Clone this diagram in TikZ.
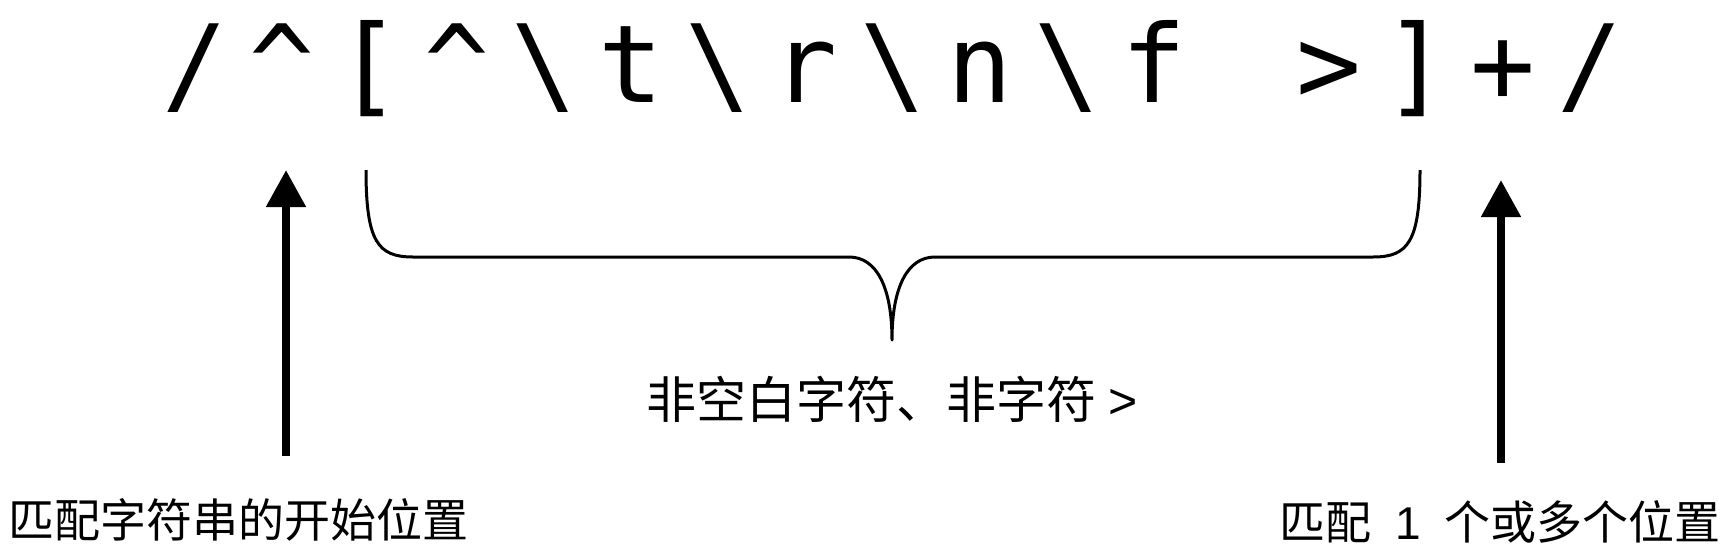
\documentclass[tikz,border=0pt]{standalone}
\usepackage{fontspec}
\usetikzlibrary{arrows.meta}
\newfontfamily\cjk{Noto Sans CJK SC}
\newfontfamily\latin{Liberation Sans}
\newfontfamily\rxfont{DejaVu Sans Mono}

\begin{document}
\begin{tikzpicture}[x=1pt,y=-1pt]
        \tikzstyle{rx}=[inner sep=0pt, anchor=base, font=\rxfont\fontsize{108}{108}\selectfont]
        \tikzstyle{lbl}=[inner sep=0pt, anchor=base west, font=\cjk\fontsize{46}{46}\selectfont]
        \tikzstyle{up}=[line width=8pt, -{Triangle[width=38pt,length=37pt]}]

        \useasboundingbox (0,0) rectangle (1727,549);

        % the pattern
        \node[rx] (sl1) at (195,102)    {/};
        \node[rx] (car) at (282.2,102)  {\textasciicircum};
        \node[rx] (lbr) at (369.4,102)  {\lbrack};
        \node[rx] (neg) at (456.6,102)  {\textasciicircum};
        \node[rx] (bs1) at (543.8,102)  {\textbackslash};
        \node[rx] (t)   at (631,102)    {t};
        \node[rx] (bs2) at (718.2,102)  {\textbackslash};
        \node[rx] (r)   at (805.4,102)  {r};
        \node[rx] (bs3) at (892.6,102)  {\textbackslash};
        \node[rx] (n)   at (979.8,102)  {n};
        \node[rx] (bs4) at (1067,102)   {\textbackslash};
        \node[rx] (f)   at (1154.2,102) {f};
        \node[rx] (gt)  at (1328.6,102) {>};
        \node[rx] (rbr) at (1415.8,102) {\rbrack};
        \node[rx] (pl)  at (1503,102)   {+};
        \node[rx] (sl2) at (1590.2,102) {/};

        % the brace under the class
        \draw[line width=3pt, line join=round]
            (366,170) .. controls (366,242) and (378,257) .. (413,257) -- (849,257)
            .. controls (877,257) and (892,288) .. (892,340)
            .. controls (892,288) and (907,257) .. (935,257) -- (1373,257)
            .. controls (1408,257) and (1420,242) .. (1420,170);

        % labels
        \node[lbl, anchor=base, font=\cjk\fontsize{50}{50}\selectfont] (cls) at (892,418) {非空白字符、非字符 {\latin >}};
        \node[lbl] (start) at (8,537) {匹配字符串的开始位置};
        \node[lbl, anchor=base east] (more) at (1721,539) {匹配\hspace{24pt}{\latin 1}\hspace{24pt}个或多个位置};

        % arrows
        \coordinate (startFoot) at (286,456);
        \coordinate (startTip)  at (286,170);
        \coordinate (moreFoot)  at (1501,463);
        \coordinate (moreTip)   at (1501,180);
        \draw[up] (startFoot) -- (startTip);
        \draw[up] (moreFoot) -- (moreTip);
    \end{tikzpicture}
\end{document}
